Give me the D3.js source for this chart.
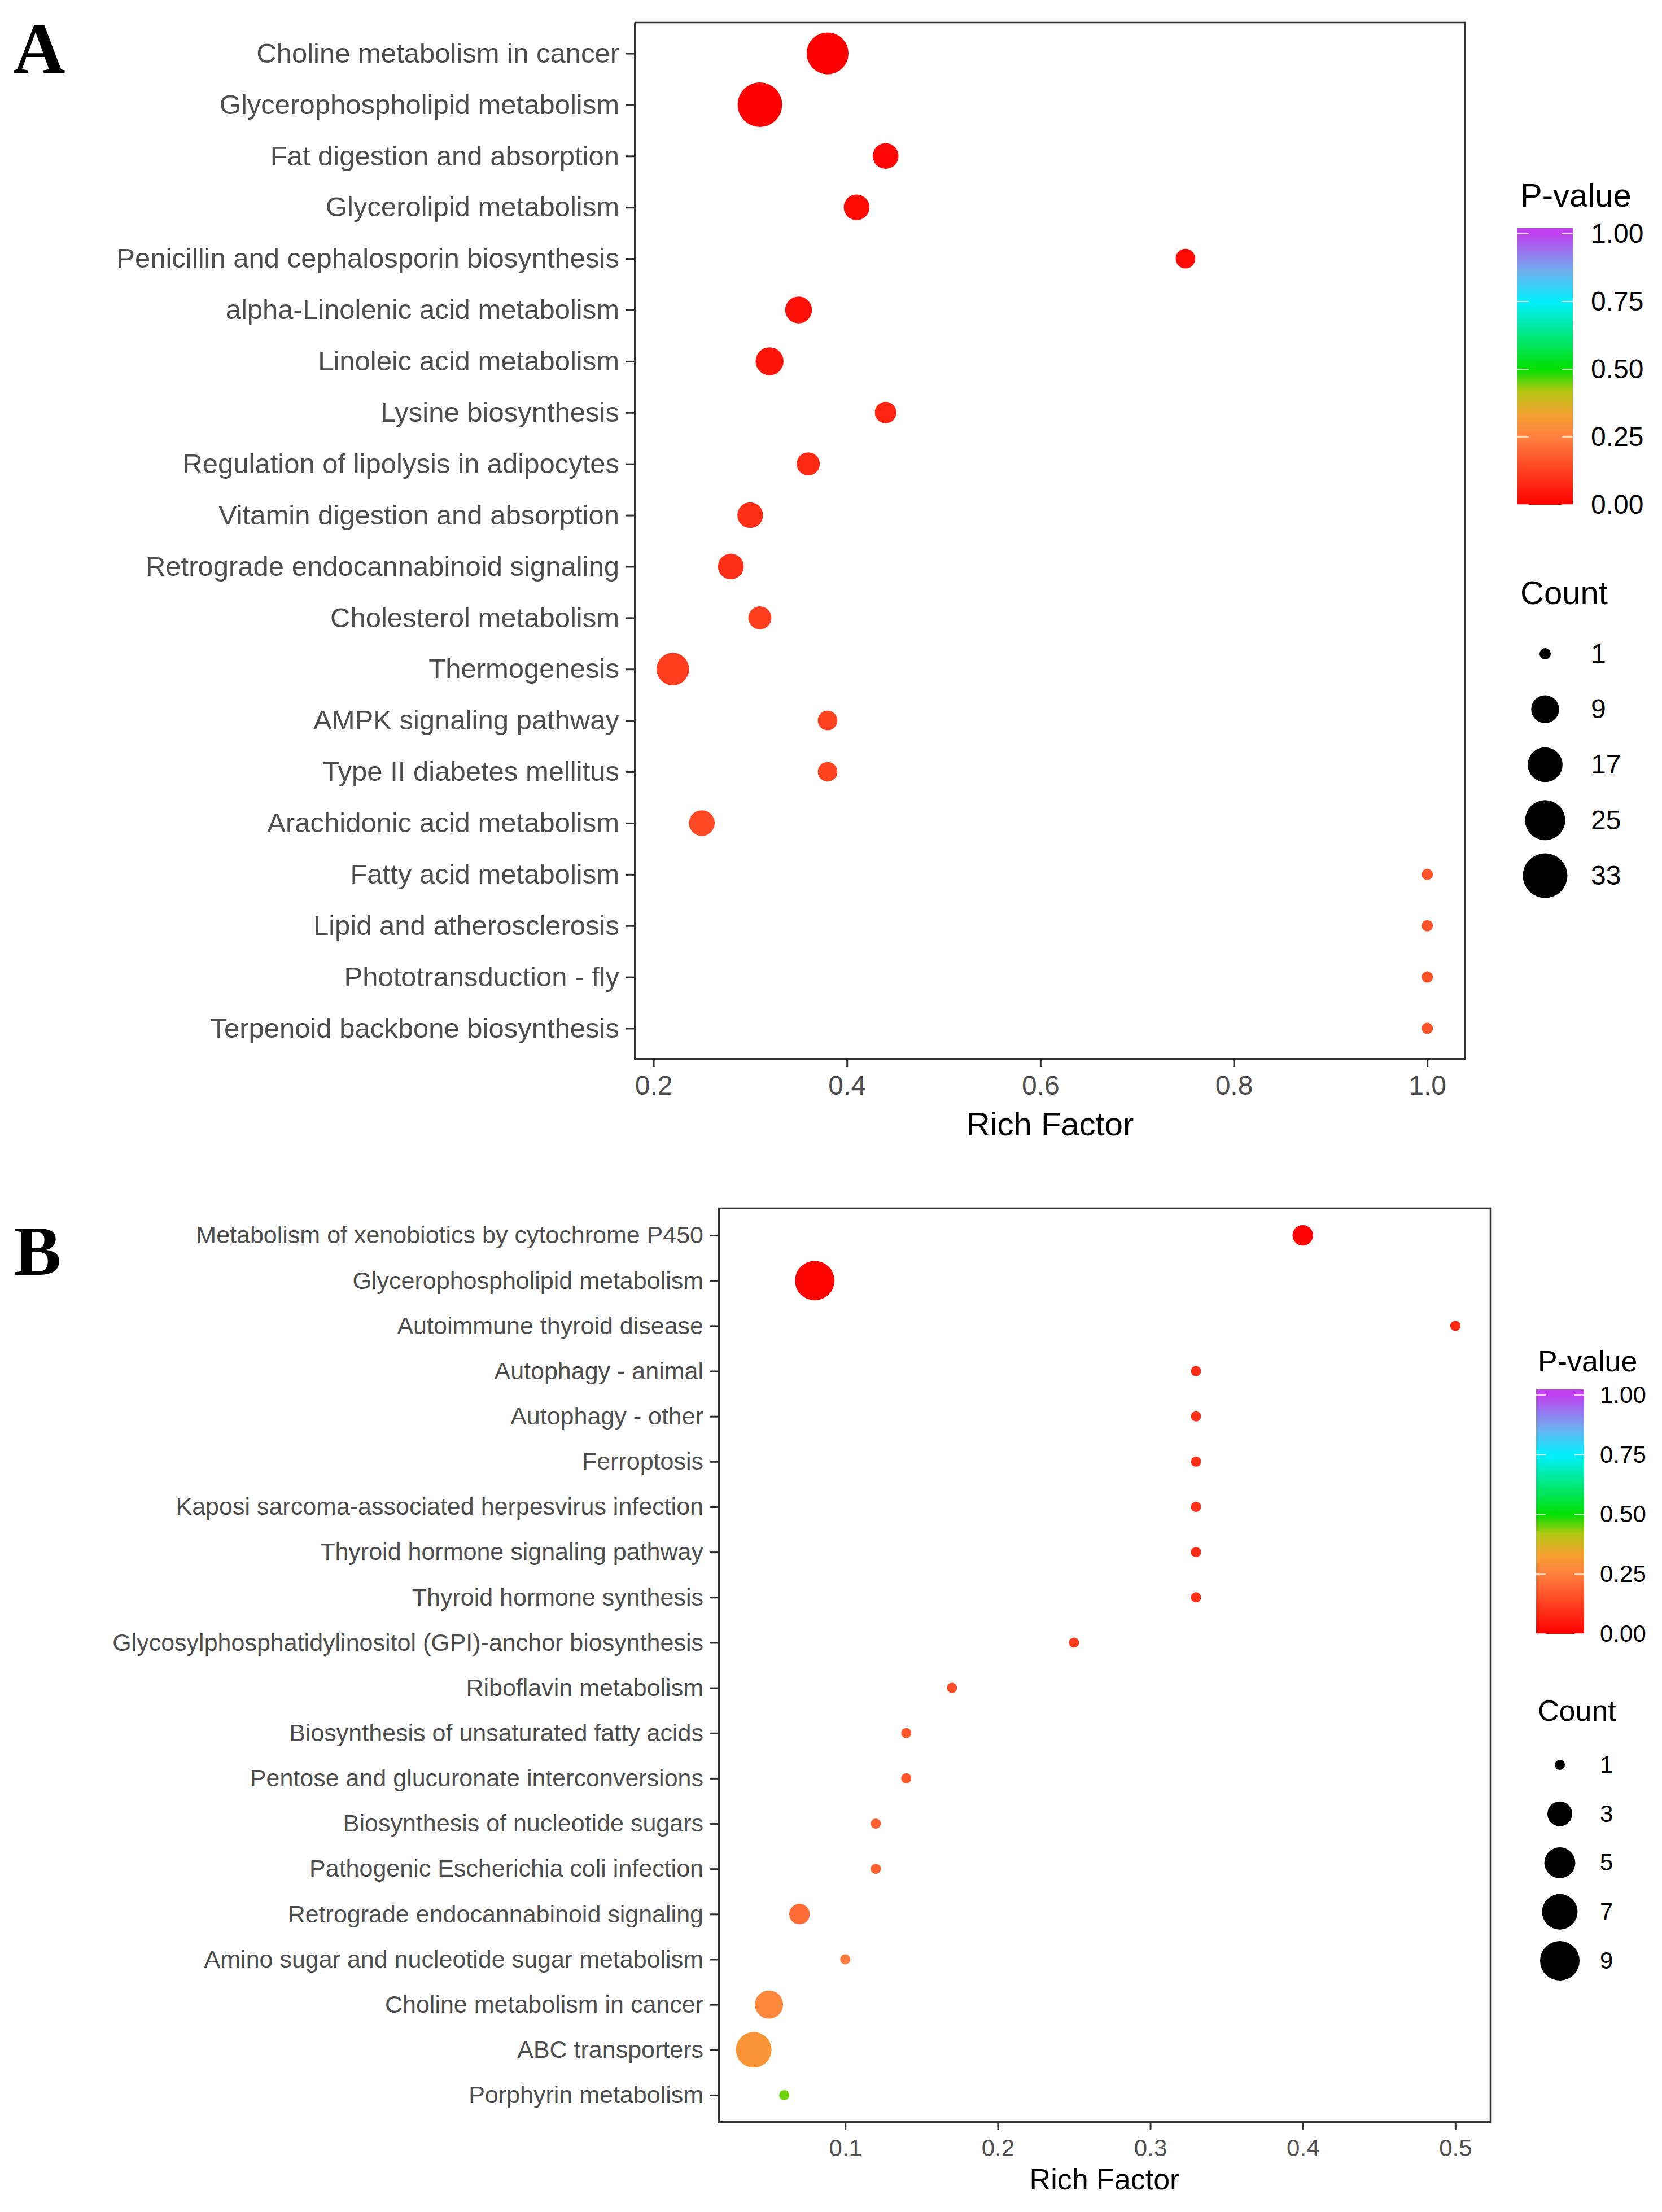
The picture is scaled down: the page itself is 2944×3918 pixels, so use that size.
<!DOCTYPE html>
<html>
<head>
<meta charset="utf-8">
<script src="https://cdn.jsdelivr.net/npm/d3@7"></script>
<style>
  body { margin: 0; background: #fff; }
  text { font-family: "Liberation Sans", Arial, sans-serif; }
</style>
</head>
<body>
<script>
// ---- panel A data ----
const pathwaysA = [
  "Choline metabolism in cancer",
  "Glycerophospholipid metabolism",
  "Fat digestion and absorption",
  "Glycerolipid metabolism",
  "Penicillin and cephalosporin biosynthesis",
  "alpha-Linolenic acid metabolism",
  "Linoleic acid metabolism",
  "Lysine biosynthesis",
  "Regulation of lipolysis in adipocytes",
  "Vitamin digestion and absorption",
  "Retrograde endocannabinoid signaling",
  "Cholesterol metabolism",
  "Thermogenesis",
  "AMPK signaling pathway",
  "Type II diabetes mellitus",
  "Arachidonic acid metabolism",
  "Fatty acid metabolism",
  "Lipid and atherosclerosis",
  "Phototransduction - fly",
  "Terpenoid backbone biosynthesis"
];
const richA  = [0.38, 0.31, 0.44, 0.41, 0.75, 0.35, 0.32, 0.44, 0.36, 0.30, 0.28, 0.31, 0.22, 0.38, 0.38, 0.25, 1.0, 1.0, 1.0, 1.0];
const countA = [28, 33, 7, 7, 3, 8, 9, 4, 5, 7, 7, 5, 14, 3, 3, 7, 1, 1, 1, 1];
const pvalA  = [0.0002, 0.0005, 0.01, 0.02, 0.02, 0.03, 0.04, 0.07, 0.08, 0.09, 0.09, 0.12, 0.12, 0.13, 0.13, 0.14, 0.16, 0.16, 0.16, 0.16];
const xTicksA = [0.2, 0.4, 0.6, 0.8, 1.0];
const countBreaksA = [1, 9, 17, 25, 33];

// ---- panel B data ----
const pathwaysB = [
  "Metabolism of xenobiotics by cytochrome P450",
  "Glycerophospholipid metabolism",
  "Autoimmune thyroid disease",
  "Autophagy - animal",
  "Autophagy - other",
  "Ferroptosis",
  "Kaposi sarcoma-associated herpesvirus infection",
  "Thyroid hormone signaling pathway",
  "Thyroid hormone synthesis",
  "Glycosylphosphatidylinositol (GPI)-anchor biosynthesis",
  "Riboflavin metabolism",
  "Biosynthesis of unsaturated fatty acids",
  "Pentose and glucuronate interconversions",
  "Biosynthesis of nucleotide sugars",
  "Pathogenic Escherichia coli infection",
  "Retrograde endocannabinoid signaling",
  "Amino sugar and nucleotide sugar metabolism",
  "Choline metabolism in cancer",
  "ABC transporters",
  "Porphyrin metabolism"
];
const richB  = [0.40, 0.08, 0.50, 0.33, 0.33, 0.33, 0.33, 0.33, 0.33, 0.25, 0.17, 0.14, 0.14, 0.12, 0.12, 0.07, 0.10, 0.05, 0.04, 0.06];
const countB = [2, 9, 1, 1, 1, 1, 1, 1, 1, 1, 1, 1, 1, 1, 1, 2, 1, 4, 7, 1];
const pvalB  = [0.003, 0.005, 0.08, 0.09, 0.09, 0.09, 0.09, 0.09, 0.09, 0.12, 0.15, 0.17, 0.17, 0.19, 0.19, 0.21, 0.24, 0.27, 0.30, 0.45];
const xTicksB = [0.1, 0.2, 0.3, 0.4, 0.5];
const countBreaksB = [1, 3, 5, 7, 9];

// ---- shared legend values ----
const pBreaks = [0, 0.25, 0.5, 0.75, 1];

// rainbow-like gradient used for P-value
const color = d3.scaleLinear()
  .domain([0, 0.25, 0.33, 0.42, 0.5, 0.75, 0.86, 1])
  .range(["#ff0000", "#ff8040", "#f5a030", "#b0c810", "#00e000", "#00f0ff", "#70b0f0", "#c040f0"])
  .interpolate(d3.interpolateRgb)
  .clamp(true);

const svg = d3.select("body").append("svg")
  .attr("width", 2944)
  .attr("height", 3918);

svg.append("rect").attr("width", 2944).attr("height", 3918).attr("fill", "#fff");

const layoutA = {
  id: "A", letterX: 23, letterY: 129, letterSize: 128,
  left: 1125, right: 2595, top: 40, bottom: 1876,
  labelSize: 49, tickLen: 16, yPad: 12, xPad: 15, tickFont: 48,
  titleY: 1990, titleSize: 58,
  legX: 2693, pTitleY: 366, barX: 2688, barW: 98, barTop: 404, bar0: 894, bar1: 414,
  legLabelX: 2818, legFont: 48, legTitle: 58,
  countTitleY: 1070, countY0: 1158, countY1: 1551, countX: 2737,
  dmin: 20, dmax: 79
};

const layoutB = {
  id: "B", letterX: 25, letterY: 2258, letterSize: 125,
  left: 1273, right: 2640, top: 2140, bottom: 3759,
  labelSize: 43, tickLen: 16, yPad: 11, xPad: 16, tickFont: 42,
  titleY: 3859, titleSize: 52,
  legX: 2724, pTitleY: 2429, barX: 2721, barW: 85, barTop: 2461, bar0: 2894, bar1: 2471,
  legLabelX: 2834, legFont: 42, legTitle: 52,
  countTitleY: 3048, countY0: 3126, countY1: 3473, countX: 2763,
  dmin: 18, dmax: 70
};

drawPanel(svg, layoutA, pathwaysA, richA, countA, pvalA, xTicksA, countBreaksA);
drawPanel(svg, layoutB, pathwaysB, richB, countB, pvalB, xTicksB, countBreaksB);

function drawPanel(svg, L, names, rich, counts, pvals, xTicks, countBreaks) {
  const data = names.map((n, i) => ({ name: n, rich: rich[i], count: counts[i], p: pvals[i] }));

  // ggplot-like 5% expansion on the continuous axis
  const ext = d3.extent(rich);
  const pad = (ext[1] - ext[0]) * 0.05;
  const x = d3.scaleLinear()
    .domain([ext[0] - pad, ext[1] + pad])
    .range([L.left, L.right]);

  const y = d3.scalePoint()
    .domain(names)
    .range([L.top, L.bottom])
    .padding(0.6);

  // area-style size scale, like scale_size()
  const cExt = d3.extent(counts);
  const t = d3.scaleLinear().domain(cExt).range([0, 1]);
  const diam = d3.scaleLinear().domain([0, 1]).range([L.dmin, L.dmax]);
  const size = c => diam(Math.sqrt(t(c)));

  // panel letter
  svg.append("text")
    .attr("x", L.letterX)
    .attr("y", L.letterY)
    .attr("font-family", "'Liberation Serif', 'Times New Roman', serif")
    .style("font-family", "'Liberation Serif', 'Times New Roman', serif")
    .attr("font-weight", "bold")
    .attr("font-size", L.letterSize)
    .attr("fill", "#000")
    .text(L.id);

  // border
  svg.append("rect")
    .attr("x", L.left)
    .attr("y", L.top)
    .attr("width", L.right - L.left)
    .attr("height", L.bottom - L.top)
    .attr("fill", "none")
    .attr("stroke", "#333")
    .attr("stroke-width", 2.5);

  // y axis
  const yAxis = svg.append("g")
    .attr("transform", `translate(${L.left},0)`)
    .call(d3.axisLeft(y).tickSize(L.tickLen).tickPadding(L.yPad));
  yAxis.select(".domain").remove();
  yAxis.selectAll("line").attr("stroke", "#333").attr("stroke-width", 3);
  yAxis.selectAll("text")
    .attr("font-size", L.labelSize)
    .attr("fill", "#4d4d4d")
    .attr("font-family", null);

  // x axis
  const xAxis = svg.append("g")
    .attr("transform", `translate(0,${L.bottom})`)
    .call(d3.axisBottom(x).tickValues(xTicks).tickFormat(d3.format(".1f")).tickSize(L.tickLen - 2).tickPadding(L.xPad));
  xAxis.select(".domain").remove();
  xAxis.selectAll("line").attr("stroke", "#333").attr("stroke-width", 3);
  xAxis.selectAll("text")
    .attr("font-size", L.tickFont)
    .attr("fill", "#4d4d4d")
    .attr("font-family", null);

  // heavier left / bottom axis lines
  svg.append("path")
    .attr("d", `M${L.left},${L.top}V${L.bottom}H${L.right}`)
    .attr("fill", "none")
    .attr("stroke", "#333")
    .attr("stroke-width", 4);

  svg.append("text")
    .attr("x", (L.left + L.right) / 2)
    .attr("y", L.titleY)
    .attr("dy", "0.36em")
    .attr("text-anchor", "middle")
    .attr("font-size", L.titleSize)
    .attr("fill", "#000")
    .text("Rich Factor");

  // dots
  svg.append("g").selectAll("circle")
    .data(data)
    .join("circle")
    .attr("cx", d => x(d.rich))
    .attr("cy", d => y(d.name))
    .attr("r", d => size(d.count) / 2)
    .attr("fill", d => color(d.p));

  // ---- P-value legend ----
  svg.append("text")
    .attr("x", L.legX)
    .attr("y", L.pTitleY)
    .attr("font-size", L.legTitle)
    .attr("fill", "#000")
    .text("P-value");

  const pScale = d3.scaleLinear().domain([0, 1]).range([L.bar0, L.bar1]);

  const grad = svg.append("defs").append("linearGradient")
    .attr("id", "grad" + L.id)
    .attr("gradientUnits", "userSpaceOnUse")
    .attr("x1", 0).attr("x2", 0)
    .attr("y1", pScale(0)).attr("y2", pScale(1));
  d3.range(0, 1.0001, 0.02).forEach(v => {
    grad.append("stop").attr("offset", v).attr("stop-color", color(v));
  });

  svg.append("rect")
    .attr("x", L.barX)
    .attr("y", L.barTop)
    .attr("width", L.barW)
    .attr("height", L.bar0 - L.barTop)
    .attr("fill", `url(#grad${L.id})`);

  const tw = L.barW / 5;
  const barTicks = svg.append("g");
  pBreaks.forEach(b => {
    barTicks.append("line")
      .attr("x1", L.barX).attr("x2", L.barX + tw)
      .attr("y1", pScale(b)).attr("y2", pScale(b));
    barTicks.append("line")
      .attr("x1", L.barX + L.barW - tw).attr("x2", L.barX + L.barW)
      .attr("y1", pScale(b)).attr("y2", pScale(b));
  });
  barTicks.selectAll("line").attr("stroke", "#fff").attr("stroke-width", 2).attr("opacity", 0.8);

  const pAxis = svg.append("g")
    .attr("transform", `translate(${L.legLabelX},0)`)
    .call(d3.axisRight(pScale).tickValues(pBreaks).tickFormat(d3.format(".2f")).tickSize(0).tickPadding(0));
  pAxis.select(".domain").remove();
  pAxis.selectAll("text")
    .attr("font-size", L.legFont)
    .attr("fill", "#000")
    .attr("font-family", null);

  // ---- Count legend ----
  svg.append("text")
    .attr("x", L.legX)
    .attr("y", L.countTitleY)
    .attr("font-size", L.legTitle)
    .attr("fill", "#000")
    .text("Count");

  const cy = d3.scalePoint().domain(countBreaks).range([L.countY0, L.countY1]);

  svg.append("g").selectAll("circle")
    .data(countBreaks)
    .join("circle")
    .attr("cx", L.countX)
    .attr("cy", d => cy(d))
    .attr("r", d => size(d) / 2)
    .attr("fill", "#000");

  const cAxis = svg.append("g")
    .attr("transform", `translate(${L.legLabelX},0)`)
    .call(d3.axisRight(cy).tickSize(0).tickPadding(0));
  cAxis.select(".domain").remove();
  cAxis.selectAll("text")
    .attr("font-size", L.legFont)
    .attr("fill", "#000")
    .attr("font-family", null);
}
</script>
</body>
</html>
